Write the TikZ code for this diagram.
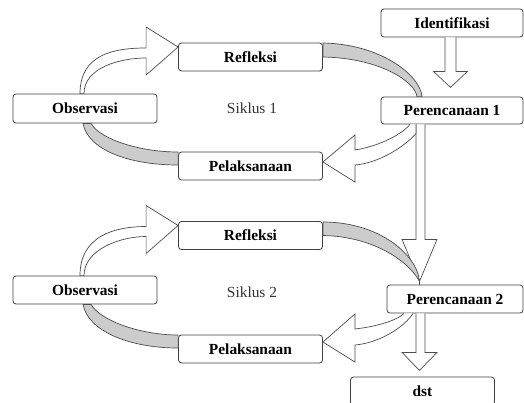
\documentclass[tikz,border=0pt]{standalone}
\usepackage{fontspec}
\setmainfont{Liberation Serif}
\usetikzlibrary{calc}
\tikzset{
	box/.style={draw=black!75,line width=0.8pt,rounded corners=3pt,fill=white,
		minimum width=144pt,minimum height=28pt,inner sep=0pt,font=\fontsize{15.4}{18}\selectfont\bfseries},
	hollow/.style={draw=black!70,line width=0.7pt,fill=white,line join=miter},
	band/.style={draw=black!70,line width=0.7pt,fill=black!20},
}
\begin{document}
\begin{tikzpicture}[x=1pt,y=-1pt,font=\fontsize{15.4}{18}\selectfont]
	\useasboundingbox (0,0) rectangle (524,402);
	\node[box,minimum width=142pt] (ident) at (452,23) {Identifikasi};
	\node[box,minimum width=142pt,minimum height=27pt] (per1) at (452,110.5) {Perencanaan 1};
	\node[box] (ref1) at (250.5,57) {Refleksi};
	\node[box,minimum height=29pt] (obs1) at (85,108.5) {Observasi};
	\node[box] (pel1) at (250.5,166) {Pelaksanaan};
	\node[text=black!80] (sik1) at (252,108) {Siklus 1};
	\node[box,minimum width=136pt] (per2) at (455,299) {Perencanaan 2};
	\node[box] (ref2) at (250.5,235.5) {Refleksi};
	\node[box] (obs2) at (85,290) {Observasi};
	\node[box] (pel2) at (250.5,349) {Pelaksanaan};
	\node[text=black!80] (sik2) at (252,292) {Siklus 2};
	\node[box] (dst) at (422.5,391) {dst};
	% down arrows
	\draw[hollow] ($(ident.south)+(-7,0)$) -- ++(0,34) -- ++(-11.5,0) -- ++(17,16) -- ++(17,-16) -- ++(-11.5,0) -- ++(0,-34);
	\draw[hollow] ($(per1.south)+(-36,0)$) -- ++(0,115) -- ++(-14,0) -- ++(17.5,42) coordinate (tip1) -- ++(17.5,-42) -- ++(-12,0) -- ++(0,-115);
	\draw[black!70,line width=0.7pt] (tip1) -- (tip1 |- per2.north);
	\draw[hollow] ($(per2.south)+(-39,0)$) -- ++(0,39) -- ++(-14,0) -- ++(17.5,18) -- ++(17.5,-18) -- ++(-12,0) -- ++(0,-39);
	% siklus 1
	\draw[hollow] ($(obs1.north)+(-5,0)$) .. controls +(0,-40) and +(-31,0) .. ($(ref1.west)+(-32,-9)$) -- ++(0,-21) -- ($(ref1.west)+(0,-10)$) -- ($(ref1.west)+(-32,18)$) -- ++(0,-17) .. controls +(-26,0) and +(0,-26) .. ($(obs1.north)+(-1,0)$) -- cycle;
	\draw[band] ($(ref1.east)+(0,-14)$) .. controls +(57,1) and +(-2,-22) .. ($(per1.north)+(-30,0)$) -- ($(per1.north)+(-35,0)$) .. controls +(-2,-15) and +(57,1) .. (ref1.east) -- cycle;
	\draw[hollow] ($(per1.south)+(-42,0)$) .. controls +(-10,12) and +(20,-3) .. ($(pel1.east)+(32,-16)$) -- ++(0,-15) -- ($(pel1.east)+(0,-4)$) -- ($(pel1.east)+(32,16)$) -- ++(0,-17) .. controls +(25,-2) and +(-10,12) .. ($(per1.south)+(-36,9)$) -- ($(per1.south)+(-36,0)$);
	\draw[band] ($(pel1.west)+(0,-1)$) .. controls +(-48,0) and +(5,27) .. ($(obs1.south)+(-2,0)$) -- ($(obs1.south)+(6,0)$) .. controls +(9,16) and +(-38,0) .. ($(pel1.west)+(0,-14)$) -- cycle;
	% siklus 2
	\draw[hollow] ($(obs2.north)+(-5,0)$) .. controls +(0,-40) and +(-31,0) .. ($(ref2.west)+(-32,-9)$) -- ++(0,-21) -- ($(ref2.west)+(0,-10)$) -- ($(ref2.west)+(-32,18)$) -- ++(0,-17) .. controls +(-26,0) and +(0,-26) .. ($(obs2.north)+(-1,0)$) -- cycle;
	\draw[band] ($(ref2.east)+(0,-13.5)$) .. controls +(57,0) and +(-2,-26) .. (tip1) .. controls +(-10,-19) and +(52,1) .. (ref2.east) -- cycle;
	\draw[hollow] ($(per2.south)+(-51,0)$) .. controls +(-8,8) and +(18,-2) .. ($(pel2.east)+(32,-20)$) -- ++(0,-15) -- ($(pel2.east)+(0,-7)$) -- ($(pel2.east)+(32,13)$) -- ++(0,-17) .. controls +(25,-2) and +(-8,13) .. ($(per2.south)+(-42,0)$);
	\draw[band] ($(pel2.west)+(0,-1)$) .. controls +(-48,0) and +(5,27) .. ($(obs2.south)+(-2,0)$) -- ($(obs2.south)+(6,0)$) .. controls +(9,16) and +(-38,0) .. ($(pel2.west)+(0,-14)$) -- cycle;
\end{tikzpicture}
\end{document}
